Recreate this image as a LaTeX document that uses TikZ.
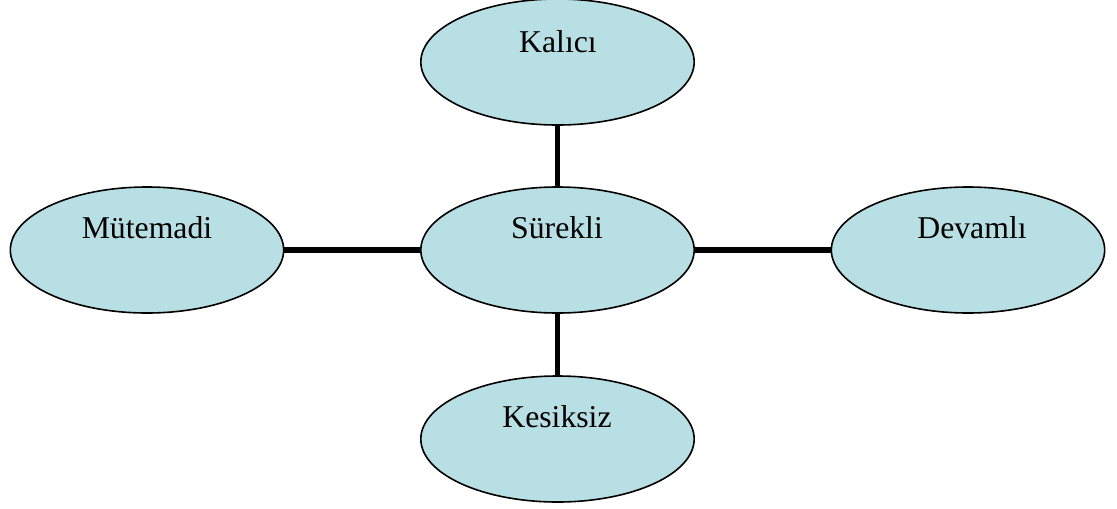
\documentclass[tikz,border=0pt]{standalone}
\usepackage{fontspec}
\setmainfont{Liberation Serif}
\usetikzlibrary{shapes.geometric}
\definecolor{bubble}{RGB}{184,223,227}
\tikzset{
  bub/.style={ellipse, draw=black, line width=1.2pt, fill=bubble,
    minimum width=205pt, minimum height=94.5pt, inner sep=0pt},
  lbl/.style={font=\fontsize{23.8}{28}\selectfont, anchor=center},
  conn/.style={line width=3.8pt, black}
}
\begin{document}
\begin{tikzpicture}[x=0.75pt,y=-0.75pt]
\useasboundingbox (0,0) rectangle (1117,508);
\node[bub] (kal) at (557.5,62) {};
\node[bub] (sur) at (557.5,250) {};
\node[bub] (mut) at (147,250) {};
\node[bub] (dev) at (968,250) {};
\node[bub] (kes) at (557.5,439) {};
\draw[conn] (kal.south) -- (sur.north);
\draw[conn] (sur.south) -- (kes.north);
\draw[conn] (mut.east) -- (sur.west);
\draw[conn] (sur.east) -- (dev.west);
\node[lbl] (tkal) at (558,42) {Kalıcı};
\node[lbl] (tsur) at (557,228) {Sürekli};
\node[lbl] (tmut) at (147,228) {Mütemadi};
\node[lbl] (tdev) at (972,228) {Devamlı};
\node[lbl] (tkes) at (557,417) {Kesiksiz};
\end{tikzpicture}
\end{document}
